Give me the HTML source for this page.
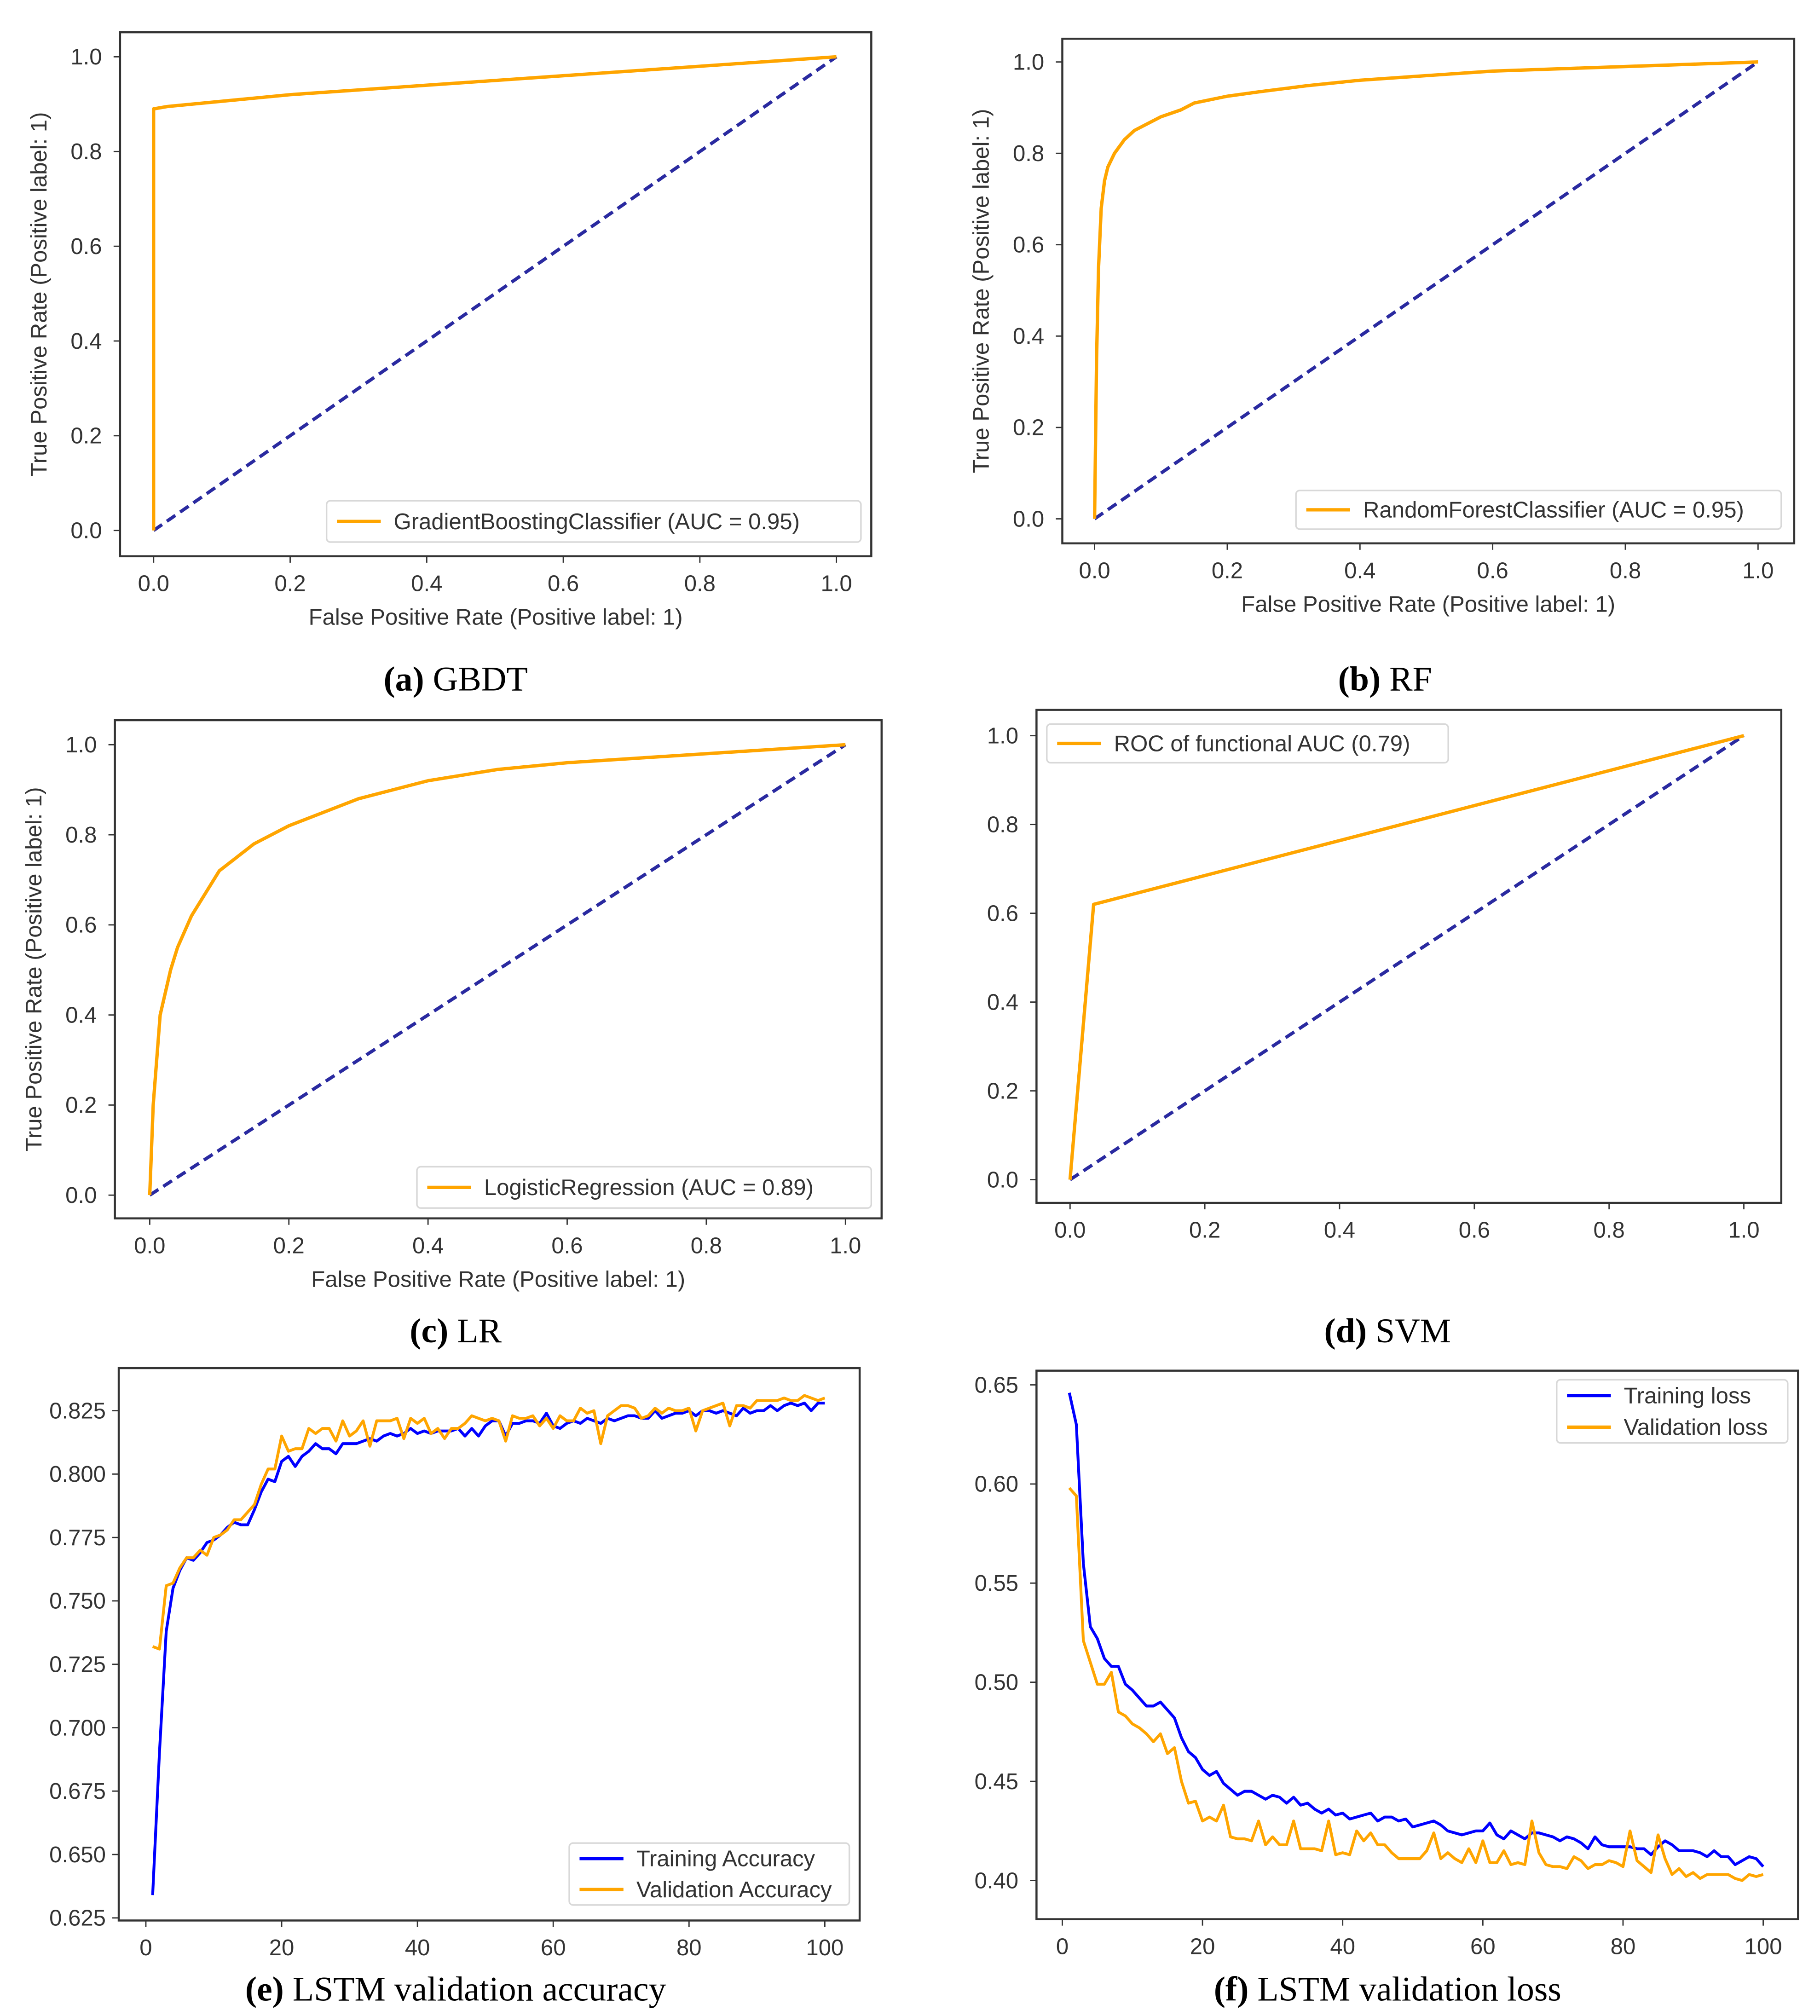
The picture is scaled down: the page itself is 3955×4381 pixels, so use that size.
<!DOCTYPE html>
<html><head><meta charset="utf-8"><style>
html,body{margin:0;padding:0;background:#fff;}
svg{display:block;}
text{font-family:"Liberation Sans","DejaVu Sans",sans-serif;}
.cap{font-family:"Liberation Serif",serif;font-size:27px;fill:#000;}
</style></head><body>
<svg id="root" width="3955" height="4381" viewBox="0 0 1410 1562" preserveAspectRatio="none" xmlns="http://www.w3.org/2000/svg"></svg>
<script>
// ---- data ----
const rocTicks = [0, 0.2, 0.4, 0.6, 0.8, 1.0];
const rocTickLabels = ["0.0","0.2","0.4","0.6","0.8","1.0"];
const gbdtFpr = [0, 0, 0.02, 0.2, 0.5, 0.8, 1];
const gbdtTpr = [0, 0.89, 0.895, 0.92, 0.95, 0.98, 1];
const rfFpr = [0, 0.003, 0.006, 0.01, 0.015, 0.02, 0.03, 0.045, 0.06, 0.08, 0.1, 0.13, 0.15, 0.2, 0.25, 0.32, 0.4, 0.5, 0.6, 0.8, 1];
const rfTpr = [0, 0.35, 0.55, 0.68, 0.74, 0.77, 0.8, 0.83, 0.85, 0.865, 0.88, 0.895, 0.91, 0.925, 0.935, 0.948, 0.96, 0.97, 0.98, 0.99, 1];
const lrFpr = [0, 0.005, 0.015, 0.03, 0.04, 0.06, 0.08, 0.1, 0.15, 0.2, 0.3, 0.4, 0.5, 0.6, 0.8, 1];
const lrTpr = [0, 0.2, 0.4, 0.5, 0.55, 0.62, 0.67, 0.72, 0.78, 0.82, 0.88, 0.92, 0.945, 0.96, 0.98, 1];
const svmFpr = [0, 0.035, 1];
const svmTpr = [0, 0.62, 1];
const epochTicks = [0, 20, 40, 60, 80, 100];
const accTicks = [0.625,0.650,0.675,0.700,0.725,0.750,0.775,0.800,0.825];
const lossTicks = [0.40,0.45,0.50,0.55,0.60,0.65];
const trainAcc = [0.634,0.69,0.738,0.755,0.762,0.767,0.766,0.769,0.773,0.774,0.776,0.779,0.781,0.780,0.780,0.786,0.793,0.798,0.797,0.805,0.807,0.803,0.807,0.809,0.812,0.810,0.810,0.808,0.812,0.812,0.812,0.813,0.814,0.813,0.815,0.816,0.815,0.816,0.818,0.816,0.817,0.816,0.817,0.817,0.817,0.818,0.815,0.818,0.815,0.819,0.821,0.821,0.815,0.820,0.820,0.821,0.821,0.820,0.824,0.819,0.818,0.820,0.821,0.820,0.822,0.821,0.820,0.822,0.821,0.822,0.823,0.823,0.822,0.822,0.825,0.822,0.823,0.824,0.824,0.825,0.823,0.825,0.825,0.824,0.825,0.824,0.823,0.826,0.824,0.825,0.825,0.827,0.825,0.827,0.828,0.827,0.828,0.825,0.828,0.828];
const valAcc = [0.732,0.731,0.756,0.757,0.763,0.767,0.767,0.770,0.768,0.775,0.776,0.778,0.782,0.782,0.785,0.788,0.796,0.802,0.802,0.815,0.809,0.810,0.810,0.818,0.816,0.818,0.818,0.813,0.821,0.815,0.817,0.821,0.811,0.821,0.821,0.821,0.822,0.814,0.822,0.820,0.822,0.816,0.818,0.814,0.818,0.818,0.820,0.823,0.822,0.821,0.822,0.821,0.813,0.823,0.822,0.822,0.823,0.819,0.822,0.818,0.823,0.821,0.821,0.826,0.824,0.825,0.812,0.823,0.825,0.827,0.827,0.826,0.822,0.823,0.826,0.824,0.826,0.825,0.825,0.826,0.817,0.825,0.826,0.827,0.828,0.819,0.827,0.827,0.826,0.829,0.829,0.829,0.829,0.830,0.829,0.829,0.831,0.830,0.829,0.830];
const trainLoss = [0.646,0.630,0.560,0.528,0.522,0.512,0.508,0.508,0.499,0.496,0.492,0.488,0.488,0.490,0.486,0.482,0.472,0.465,0.462,0.456,0.453,0.455,0.449,0.446,0.443,0.445,0.445,0.443,0.441,0.443,0.442,0.439,0.442,0.438,0.439,0.436,0.434,0.436,0.433,0.434,0.431,0.432,0.433,0.434,0.430,0.432,0.432,0.430,0.431,0.427,0.428,0.429,0.430,0.428,0.425,0.424,0.423,0.424,0.425,0.425,0.429,0.423,0.421,0.425,0.423,0.421,0.424,0.424,0.423,0.422,0.420,0.422,0.421,0.419,0.416,0.422,0.418,0.417,0.417,0.417,0.417,0.416,0.416,0.413,0.417,0.420,0.418,0.415,0.415,0.415,0.414,0.412,0.415,0.412,0.412,0.408,0.410,0.412,0.411,0.407];
const valLoss = [0.598,0.594,0.521,0.510,0.499,0.499,0.505,0.485,0.483,0.479,0.477,0.474,0.470,0.474,0.464,0.467,0.450,0.439,0.440,0.430,0.432,0.430,0.438,0.422,0.421,0.421,0.420,0.430,0.418,0.422,0.418,0.418,0.430,0.416,0.416,0.416,0.415,0.430,0.413,0.414,0.413,0.425,0.420,0.424,0.418,0.418,0.414,0.411,0.411,0.411,0.411,0.415,0.424,0.411,0.414,0.411,0.409,0.416,0.409,0.420,0.409,0.409,0.415,0.408,0.409,0.408,0.430,0.414,0.408,0.407,0.407,0.406,0.412,0.410,0.406,0.408,0.408,0.410,0.409,0.407,0.425,0.410,0.407,0.404,0.423,0.411,0.403,0.406,0.402,0.404,0.401,0.403,0.403,0.403,0.403,0.401,0.400,0.403,0.402,0.403];

const NS = "http://www.w3.org/2000/svg";
const root = document.getElementById('root');
const ORANGE = "#ffa500", NAVY = "#2a2aa0", BLUE = "#0000ff";
function mk(tag, attrs, parent){ const e=document.createElementNS(NS,tag); for(const k in attrs) e.setAttribute(k,attrs[k]); (parent||root).appendChild(e); return e; }
function txt(parent,x,y,s,size,anchor,extra){ const t=mk('text',Object.assign({x:x,y:y,'font-size':size,'text-anchor':anchor||'middle',fill:'#333'},extra||{}),parent); t.textContent=s; return t; }
function scale(d0,d1,p0,p1){ return v=>p0+(v-d0)/(d1-d0)*(p1-p0); }

function panel(cfg){
  const g = mk('g',{});
  
  
  const sx = scale(cfg.xd[0],cfg.xd[1],cfg.xp[0],cfg.xp[1]);
  const sy = scale(cfg.yd[0],cfg.yd[1],cfg.yp[0],cfg.yp[1]);
  const b = cfg.box;
  const frame = mk('rect',{x:b[0],y:b[1],width:b[2]-b[0],height:b[3]-b[1],fill:'#fff',stroke:'#333','stroke-width':1.6},g);
  
  
  cfg.xt.forEach((v,i)=>{
    mk('line',{x1:sx(v),x2:sx(v),y1:b[3],y2:b[3]+5,stroke:'#333','stroke-width':1},g);
    const t=txt(g,sx(v),b[3]+27,cfg.xtl[i],17.5);
    
    
  });
  cfg.yt.forEach((v,i)=>{
    mk('line',{x1:b[0],x2:b[0]-5,y1:sy(v),y2:sy(v),stroke:'#333','stroke-width':1},g);
    const t=txt(g,b[0]-(cfg.ylOff||13),sy(v)+6,cfg.ytl[i],17.5,'end');
    
    
  });
  if(cfg.xlabel){ const t=txt(g,(b[0]+b[2])/2,b[3]+53,cfg.xlabel,17.5);   }
  if(cfg.ylabel){ const cx=b[0]-57, cy=(b[1]+b[3])/2; const t=txt(g,cx,cy,cfg.ylabel,17.5,'middle',{transform:`rotate(-90 ${cx} ${cy})`});   }
  if(cfg.diag){ const d=mk('line',{x1:sx(0),y1:sy(0),x2:sx(1),y2:sy(1),stroke:NAVY,'stroke-width':2.6,'stroke-dasharray':'8,4.5'},g);   }
  cfg.series.forEach(s=>{
    const pts = s.x.map((xv,i)=>sx(xv).toFixed(2)+','+sy(s.y[i]).toFixed(2)).join(' ');
    const p=mk('polyline',{points:pts,fill:'none',stroke:s.color,'stroke-width':s.w||2.6,'stroke-linejoin':'round'},g);
    
    
  });
  const L = cfg.legend;
  const lg = mk('g',{},g);
  
  
  mk('rect',{x:L.x,y:L.y,width:L.w,height:L.h,rx:3,fill:'#fff',stroke:'#d8d8d8','stroke-width':1.2},lg);
  L.items.forEach((it,i)=>{
    const yy = L.y + L.h/(L.items.length*2)*(2*i+1);
    mk('line',{x1:L.x+8,x2:L.x+42,y1:yy,y2:yy,stroke:it.color,'stroke-width':2.6},lg);
    const t=txt(lg,L.x+52,yy+6,it.label,17.5,'start');
    
    
  });
  const c = mk('text',{x:cfg.cap[0],y:cfg.cap[1],'text-anchor':'middle',class:'cap'});
  
  
  const bold = mk('tspan',{'font-weight':'bold'},c); bold.textContent=cfg.capB;
  const rest = mk('tspan',{},c); rest.textContent=' '+cfg.capT;
}
const yl="True Positive Rate (Positive label: 1)", xl="False Positive Rate (Positive label: 1)";
panel({name:'gbdt-roc-chart',box:[93,25,675,431],xd:[0,1],xp:[119,648],yd:[0,1],yp:[411,44],xt:rocTicks,xtl:rocTickLabels,yt:rocTicks,ytl:rocTickLabels,ylOff:14,xlabel:xl,ylabel:yl,diag:true,
  series:[{name:'gbdt-roc-curve',x:gbdtFpr,y:gbdtTpr,color:ORANGE}],
  legend:{x:253,y:388,w:414,h:32,items:[{color:ORANGE,label:'GradientBoostingClassifier (AUC = 0.95)'}]},cap:[353,535],capB:'(a)',capT:'GBDT'});
panel({name:'rf-roc-chart',box:[823,30,1390,421],xd:[0,1],xp:[848,1362],yd:[0,1],yp:[402,48],xt:rocTicks,xtl:rocTickLabels,yt:rocTicks,ytl:rocTickLabels,ylOff:14,xlabel:xl,ylabel:yl,diag:true,
  series:[{name:'rf-roc-curve',x:rfFpr,y:rfTpr,color:ORANGE}],
  legend:{x:1004,y:380,w:376,h:30,items:[{color:ORANGE,label:'RandomForestClassifier (AUC = 0.95)'}]},cap:[1073,535],capB:'(b)',capT:'RF'});
panel({name:'lr-roc-chart',box:[89,558,683,944],xd:[0,1],xp:[116,655],yd:[0,1],yp:[926,577],xt:rocTicks,xtl:rocTickLabels,yt:rocTicks,ytl:rocTickLabels,ylOff:14,xlabel:xl,ylabel:yl,diag:true,
  series:[{name:'lr-roc-curve',x:lrFpr,y:lrTpr,color:ORANGE}],
  legend:{x:323,y:904,w:352,h:32,items:[{color:ORANGE,label:'LogisticRegression (AUC = 0.89)'}]},cap:[353,1040],capB:'(c)',capT:'LR'});
panel({name:'svm-roc-chart',box:[803,550,1380,932],xd:[0,1],xp:[829,1351],yd:[0,1],yp:[914,570],xt:rocTicks,xtl:rocTickLabels,yt:rocTicks,ytl:rocTickLabels,ylOff:14,diag:true,
  series:[{name:'svm-roc-curve',x:svmFpr,y:svmTpr,color:ORANGE}],
  legend:{x:811,y:561,w:311,h:30,items:[{color:ORANGE,label:'ROC of functional AUC (0.79)'}]},cap:[1075,1040],capB:'(d)',capT:'SVM'});
const epochs = trainAcc.map((_,i)=>i+1);
panel({name:'lstm-accuracy-chart',box:[92,1060,666,1488],xd:[0,100],xp:[113,639],yd:[0.625,0.825],yp:[1486,1093],xt:epochTicks,xtl:epochTicks.map(String),yt:accTicks,ytl:accTicks.map(v=>v.toFixed(3)),ylOff:10,
  series:[{name:'training-accuracy-line',x:epochs,y:trainAcc,color:BLUE,w:2.2},{name:'validation-accuracy-line',x:epochs,y:valAcc,color:ORANGE,w:2.2}],
  legend:{x:441,y:1428,w:217,h:48,items:[{color:BLUE,label:'Training Accuracy'},{color:ORANGE,label:'Validation Accuracy'}]},cap:[353,1550],capB:'(e)',capT:'LSTM validation accuracy'});
panel({name:'lstm-loss-chart',box:[803,1062,1393,1487],xd:[0,100],xp:[823,1366],yd:[0.40,0.65],yp:[1457,1073],xt:epochTicks,xtl:epochTicks.map(String),yt:lossTicks,ytl:lossTicks.map(v=>v.toFixed(2)),ylOff:14,
  series:[{name:'training-loss-line',x:epochs,y:trainLoss,color:BLUE,w:2.2},{name:'validation-loss-line',x:epochs,y:valLoss,color:ORANGE,w:2.2}],
  legend:{x:1206,y:1069,w:179,h:49,items:[{color:BLUE,label:'Training loss'},{color:ORANGE,label:'Validation loss'}]},cap:[1075,1550],capB:'(f)',capT:'LSTM validation loss'});
</script>
</body></html>
